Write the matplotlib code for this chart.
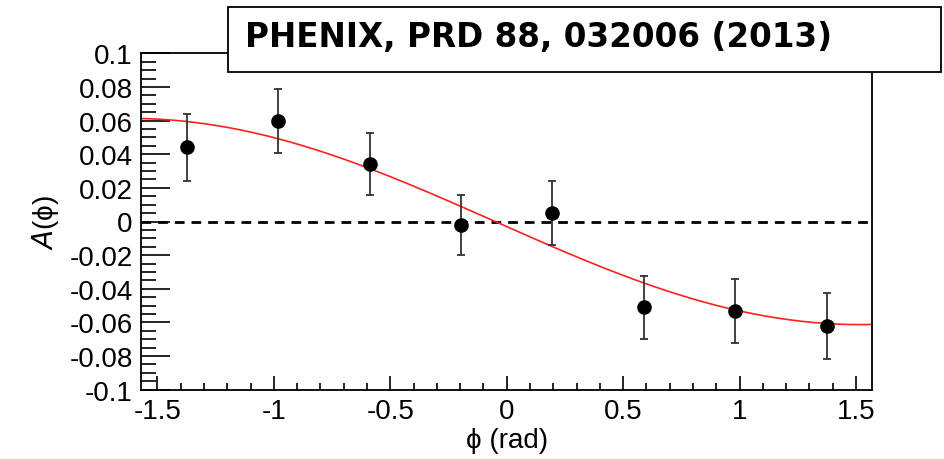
import numpy as np
import matplotlib
matplotlib.use('Agg')
from matplotlib import pyplot as plt
from matplotlib.patches import Rectangle
from matplotlib.ticker import MultipleLocator

plt.rcParams['font.family'] = ['Liberation Sans', 'DejaVu Sans']

# data
phi = [-1.374, -0.982, -0.589, -0.196, 0.196, 0.589, 0.982, 1.374]
asym = [0.044, 0.060, 0.034, -0.002, 0.005, -0.051, -0.053, -0.062]
asym_err = [0.020, 0.019, 0.0185, 0.018, 0.019, 0.0187, 0.019, 0.0197]

# fit curve  A(phi) = fit_amp * sin(phi + fit_shift)
fit_amp = -0.0613
fit_shift = 0.05

W, H = 945, 460
fig = plt.figure(figsize=(W/100, H/100), dpi=100)
ax = fig.add_axes([141/W, 1-390.7/H, (872.5-141)/W, (390.7-54.3)/H])

xf = np.linspace(-np.pi/2, np.pi/2, 300)
ax.plot(xf, fit_amp*np.sin(xf + fit_shift), color='#ff2020', lw=1.2, zorder=2)
ax.axhline(0, color='black', lw=2, ls=(0, (3.5, 2.5)), zorder=1)
ax.errorbar(phi, asym, yerr=asym_err, fmt='o', color='black', ms=9.5,
            ecolor='#333333', elinewidth=1.3, capsize=3, capthick=1.3, zorder=3)

ax.set_xlim(-np.pi/2, np.pi/2)
ax.set_ylim(-0.1, 0.1)
ax.xaxis.set_major_locator(MultipleLocator(0.5))
ax.xaxis.set_minor_locator(MultipleLocator(0.1))
ax.yaxis.set_major_locator(MultipleLocator(0.02))
ax.yaxis.set_minor_locator(MultipleLocator(0.005))
ax.tick_params(which='both', direction='in', top=False, right=False, labelsize=20)
ax.tick_params(axis='y', which='major', length=21, width=1.2, pad=6)
ax.tick_params(axis='y', which='minor', length=11, width=1.2)
ax.tick_params(axis='x', which='major', length=10, width=1.2, pad=6)
ax.tick_params(axis='x', which='minor', length=5, width=1.2)
ax.set_xticks([-1.5, -1, -0.5, 0, 0.5, 1, 1.5])
ax.set_xticklabels(['-1.5', '-1', '-0.5', '0', '0.5', '1', '1.5'])
ax.set_yticks(np.arange(-0.1, 0.101, 0.02))
ax.set_yticklabels(['-0.1', '-0.08', '-0.06', '-0.04', '-0.02', '0',
                    '0.02', '0.04', '0.06', '0.08', '0.1'])
for s in ax.spines.values():
    s.set_linewidth(1.3)

ax.set_xlabel('ϕ (rad)', fontsize=20, labelpad=2)
ax.set_ylabel('$\\it{A}$(ϕ)', fontsize=20, labelpad=6)

# label box
fig.patches.append(Rectangle((228/W, 1-73/H), (941-228)/W, (73-8)/H,
                             transform=fig.transFigure, facecolor='white',
                             edgecolor='black', lw=1.3, zorder=5))
fig.text(245/W, 1-38/H, 'PHENIX, PRD 88, 032006 (2013)', fontsize=23.5,
         fontweight='bold', family=['DejaVu Sans'],
         va='center', ha='left', zorder=6)

fig.savefig('out.png', dpi=100)
